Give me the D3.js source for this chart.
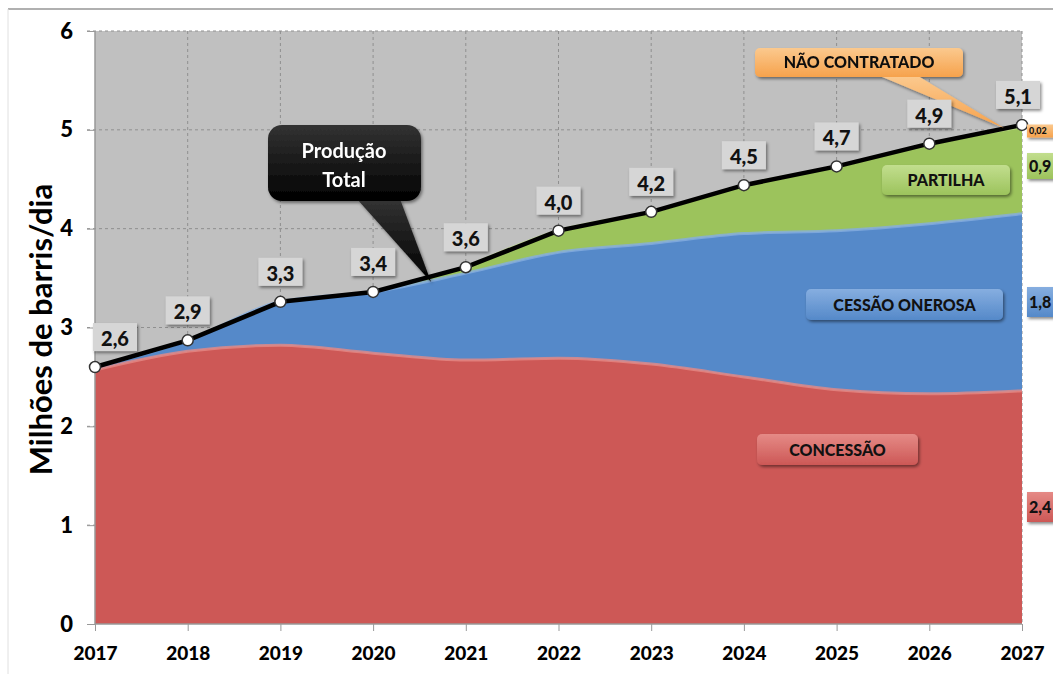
<!DOCTYPE html>
<html>
<head>
<meta charset="utf-8">
<script src="https://cdn.jsdelivr.net/npm/d3@7"></script>
<style>
  body { margin: 0; background: #fff; }
  svg, svg text { font-family: Lato, "Open Sans", sans-serif; }
</style>
</head>
<body>
<div class="chart"></div>
<script>
// Data
let years = [2017, 2018, 2019, 2020, 2021, 2022, 2023, 2024, 2025, 2026, 2027];
let concessao = [2.57, 2.76, 2.82, 2.74, 2.67, 2.69, 2.63, 2.50, 2.37, 2.33, 2.36];
let cessao = [0.03, 0.11, 0.44, 0.62, 0.88, 1.07, 1.22, 1.45, 1.61, 1.72, 1.79];
let partilha = [0, 0, 0, 0, 0.06, 0.22, 0.32, 0.49, 0.65, 0.81, 0.88];
let naoContratado = [0, 0, 0, 0, 0, 0, 0, 0, 0, 0, 0.02];
let totalLabels = ["2,6", "2,9", "3,3", "3,4", "3,6", "4,0", "4,2", "4,5", "4,7", "4,9", "5,1"];
let endLabels = ["2,4", "1,8", "0,9", "0,02"];
let yTicks = [0, 1, 2, 3, 4, 5, 6];

let width = 1053;
let height = 674;
let keys = ["concessao", "cessao", "partilha", "naoContratado"];
let colors = { concessao: "#cd5856", cessao: "#5589c9", partilha: "#9cc35c", naoContratado: "#f6a24c" };
let light = { concessao: "#e58a86", cessao: "#86aee0", partilha: "#c2de8e", naoContratado: "#fbc98e" };

let table = years.map((yr, i) => ({
  year: yr,
  concessao: concessao[i],
  cessao: cessao[i],
  partilha: partilha[i],
  naoContratado: naoContratado[i]
}));

let x = d3.scaleLinear().domain([2017, 2027]).range([95, 1022]);
let y = d3.scaleLinear().domain([0, 6]).range([624, 31]);

let svg = d3.select(".chart").append("svg").attr("width", width).attr("height", height);
let defs = svg.append("defs");

// shadow filter
let f = defs.append("filter").attr("id", "shadow").attr("x", "-20%").attr("y", "-20%").attr("width", "140%").attr("height", "150%");
f.append("feDropShadow").attr("dx", 1.5).attr("dy", 2).attr("stdDeviation", 1.5).attr("flood-opacity", 0.45);

// gradients for boxes
function grad(id, top, bottom) {
  let g = defs.append("linearGradient").attr("id", id).attr("x1", 0).attr("x2", 0).attr("y1", 0).attr("y2", 1);
  g.append("stop").attr("offset", "0%").attr("stop-color", top);
  g.append("stop").attr("offset", "100%").attr("stop-color", bottom);
}
keys.forEach((k) => grad("g-" + k, light[k], colors[k]));
grad("g-black", "#333", "#000");

// frame
svg.append("line").attr("x1", 8).attr("x2", width).attr("y1", 9).attr("y2", 9).attr("stroke", "#b0b0b0").attr("stroke-width", 2);
svg.append("line").attr("x1", 8).attr("x2", 8).attr("y1", 9).attr("y2", height).attr("stroke", "#e0e0e0").attr("stroke-width", 1);

// plot background
svg.append("rect")
  .attr("x", x(2017)).attr("y", y(6))
  .attr("width", x(2027) - x(2017)).attr("height", y(0) - y(6))
  .attr("fill", "#c0c0c0");

// gridlines
let grid = svg.append("g").attr("stroke", "#8f8f8f").attr("stroke-dasharray", "3,3").attr("stroke-width", 1);
grid.selectAll("line.h").data(yTicks.slice(1)).enter().append("line")
  .attr("x1", x(2017) - 8).attr("x2", x(2027)).attr("y1", (d) => y(d)).attr("y2", (d) => y(d));
grid.selectAll("line.v").data(years.slice(1)).enter().append("line")
  .attr("x1", (d) => x(d)).attr("x2", (d) => x(d)).attr("y1", y(6)).attr("y2", y(0));

// stacked areas
let series = d3.stack().keys(keys)(table);
let area = d3.area()
  .x((d) => x(d.data.year))
  .y0((d) => y(d[0]))
  .y1((d) => y(d[1]))
  .curve(d3.curveMonotoneX);
let topLine = d3.line()
  .x((d) => x(d.data.year))
  .y((d) => y(d[1]))
  .curve(d3.curveMonotoneX);

svg.append("g").selectAll("path").data(series).enter().append("path")
  .attr("d", area)
  .attr("fill", (d) => colors[d.key]);

svg.append("g").selectAll("path").data(series.slice(0, 3)).enter().append("path")
  .attr("d", (s) => topLine(s.filter((d) => d[1] - d[0] > 0.001 || s.key === "concessao")))
  .attr("fill", "none")
  .attr("stroke", (d) => light[d.key])
  .attr("stroke-width", 3)
  .attr("opacity", 0.8);

// axes
svg.append("line").attr("x1", x(2017)).attr("x2", x(2017)).attr("y1", y(6)).attr("y2", y(0)).attr("stroke", "#999").attr("stroke-width", 1.5);
svg.append("line").attr("x1", x(2017)).attr("x2", x(2027)).attr("y1", y(0)).attr("y2", y(0)).attr("stroke", "#999").attr("stroke-width", 1.5);

let yAxis = svg.append("g").attr("transform", `translate(${x(2017)},0)`)
  .call(d3.axisLeft(y).tickValues(yTicks).tickSize(8).tickPadding(14).tickFormat((d) => d));
yAxis.attr("font-family", null);
yAxis.select(".domain").remove();
yAxis.selectAll("line").attr("stroke", "#999");
yAxis.selectAll("text").attr("font-size", 22).attr("font-weight", 900).attr("fill", "#000");

let xAxis = svg.append("g").attr("transform", `translate(0,${y(0)})`)
  .call(d3.axisBottom(x).tickValues(years).tickSize(7).tickPadding(16).tickFormat((d) => d));
xAxis.attr("font-family", null);
xAxis.select(".domain").remove();
xAxis.selectAll("line").attr("stroke", "#999");
xAxis.selectAll("text").attr("font-size", 19).attr("font-weight", 900).attr("fill", "#000");

svg.append("text")
  .attr("transform", `translate(52,${(y(6) + y(0)) / 2 + 2}) rotate(-90)`)
  .attr("text-anchor", "middle")
  .attr("font-size", 31).attr("font-weight", 700)
  .text("Milhões de barris/dia");

// total line
let totals = series[series.length - 1].map((d) => d[1]);
let line = d3.line().x((d, i) => x(years[i])).y((d) => y(d));
svg.append("path").datum(totals)
  .attr("d", line)
  .attr("fill", "none").attr("stroke", "#000").attr("stroke-width", 4.5);

// callouts
function callout(boxX, boxY, w, h, tail, fill, r) {
  let g = svg.append("g").attr("filter", "url(#shadow)");
  g.append("path")
    .attr("d", `M${tail[0]},${tail[1]} L${tail[2]},${tail[3]} L${tail[4]},${tail[5]} Z`)
    .attr("fill", fill);
  g.append("rect").attr("x", boxX).attr("y", boxY).attr("width", w).attr("height", h)
    .attr("rx", r).attr("fill", fill);
  return g;
}

let pt = callout(268, 125, 153, 76, [357, 199, 400, 199, x(2020) + 58, y(totals[3] + 0.1)], "url(#g-black)", 14);
pt.append("text").attr("x", 344).attr("y", 158).attr("text-anchor", "middle").attr("fill", "#fff")
  .attr("font-size", 20).attr("font-weight", 700).text("Produção");
pt.append("text").attr("x", 344).attr("y", 187).attr("text-anchor", "middle").attr("fill", "#fff")
  .attr("font-size", 20).attr("font-weight", 700).text("Total");

let nc = callout(755, 48, 208, 29, [880, 76, 918, 76, x(2027) - 18, y(totals[10]) + 3], "url(#g-naoContratado)", 5);
nc.append("text").attr("x", 859).attr("y", 68).attr("text-anchor", "middle")
  .attr("font-size", 16).attr("font-weight", 900).attr("fill", "#111").text("NÃO CONTRATADO");

// category boxes
let catBoxes = [
  { key: "partilha", label: "PARTILHA", x0: 882, y0: 165, w: 128, h: 30 },
  { key: "cessao", label: "CESSÃO ONEROSA", x0: 806, y0: 289, w: 197, h: 31 },
  { key: "concessao", label: "CONCESSÃO", x0: 757, y0: 434, w: 161, h: 31 }
];
let cb = svg.append("g").selectAll("g").data(catBoxes).enter().append("g");
cb.append("rect")
  .attr("x", (d) => d.x0).attr("y", (d) => d.y0).attr("width", (d) => d.w).attr("height", (d) => d.h)
  .attr("rx", 5).attr("fill", (d) => "url(#g-" + d.key + ")").attr("filter", "url(#shadow)");
cb.append("text")
  .attr("x", (d) => d.x0 + d.w / 2).attr("y", (d) => d.y0 + d.h / 2 + 6)
  .attr("text-anchor", "middle").attr("font-size", 16).attr("font-weight", 900).attr("fill", "#111")
  .text((d) => d.label);

// points
svg.append("g").selectAll("circle").data(totals).enter().append("circle")
  .attr("cx", (d, i) => x(years[i])).attr("cy", (d) => y(d))
  .attr("r", 5.5).attr("fill", "#fff").attr("stroke", "#333").attr("stroke-width", 1.5);

// total labels
let tl = svg.append("g").selectAll("g").data(totals).enter().append("g")
  .attr("transform", (d, i) => `translate(${x(years[i]) + (i === 0 ? 20 : i === 10 ? -4 : 0)},${y(d) - 28})`);
tl.append("rect").attr("x", -22).attr("y", -16).attr("width", 44).attr("height", 28)
  .attr("fill", "#d6d6d6").attr("filter", "url(#shadow)");
tl.append("text").attr("text-anchor", "middle").attr("y", 7)
  .attr("font-size", 20).attr("font-weight", 900).attr("fill", "#111")
  .text((d, i) => totalLabels[i]);

// end-of-series labels
let endPos = [
  { key: "concessao", yc: 507, h: 30, fs: 16 },
  { key: "cessao", yc: 302, h: 30, fs: 16 },
  { key: "partilha", yc: 166, h: 26, fs: 16 },
  { key: "naoContratado", yc: 131, h: 13, fs: 9 }
];
let el = svg.append("g").selectAll("g").data(endPos).enter().append("g");
el.append("rect").attr("x", 1027).attr("y", (d) => d.yc - d.h / 2).attr("width", 40).attr("height", (d) => d.h)
  .attr("fill", (d) => "url(#g-" + d.key + ")").attr("filter", "url(#shadow)");
el.append("text").attr("x", 1029).attr("y", (d) => d.yc + d.fs * 0.36)
  .attr("font-size", (d) => d.fs).attr("font-weight", 900).attr("fill", "#111")
  .text((d, i) => endLabels[i]);
</script>
</body>
</html>
